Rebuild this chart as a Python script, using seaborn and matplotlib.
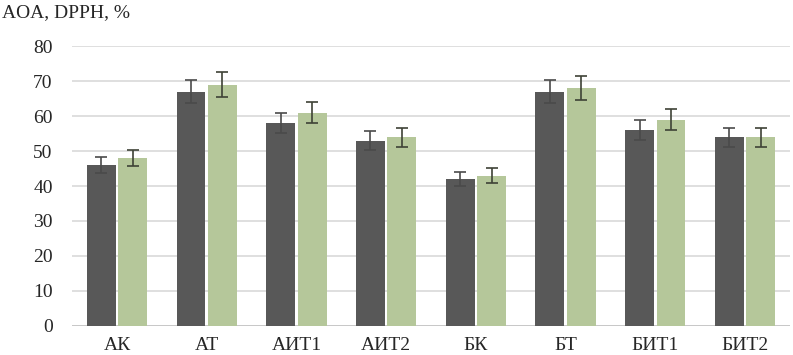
import matplotlib
matplotlib.use("Agg")
import matplotlib.pyplot as plt
import numpy as np
import pandas as pd
import seaborn as sns

categories = ["АК", "АТ", "АИТ1", "АИТ2", "БК", "БТ", "БИТ1", "БИТ2"]
series_names = ["s1", "s2"]
values_s1 = [46, 67, 58, 53, 42, 67, 56, 54]
values_s2 = [48, 69, 61, 54, 43, 68, 59, 54]
err_s1 = [2.3, 3.4, 2.9, 2.7, 2.1, 3.4, 2.8, 2.7]
err_s2 = [2.4, 3.5, 3.1, 2.7, 2.2, 3.4, 3.0, 2.7]
yticks = [0, 10, 20, 30, 40, 50, 60, 70, 80]

sns.set_style("white")
plt.rcParams['font.family'] = ['Liberation Serif', 'DejaVu Serif']

rows = []
for c, a, b in zip(categories, values_s1, values_s2):
    rows.append((c, series_names[0], a))
    rows.append((c, series_names[1], b))
data = pd.DataFrame(rows, columns=["cat", "series", "val"])

fig = plt.figure(figsize=(7.93, 3.55), dpi=100)
ax = fig.add_axes([0.091, 0.082, 0.905, 0.788])

sns.barplot(data=data, x="cat", y="val", hue="series", order=categories,
            hue_order=series_names, palette=["#585858", "#B7CE93"],
            width=0.7, gap=0.08, errorbar=None, legend=False, ax=ax,
            linewidth=0, zorder=3)

# error bars at the bar centres
errs = err_s1 + err_s2
for i, (p, e) in enumerate(zip(ax.patches, errs)):
    x = p.get_x() + p.get_width() / 2
    col = "#4a4a4a" if i < len(err_s1) else "#3e4236"
    ax.errorbar(x, p.get_height(), yerr=e, color=col, capsize=4,
                elinewidth=1.2, capthick=1.2, zorder=4)

ax.set_ylim(0, 80)
ax.set_yticks(yticks)
ax.set_xlim(-0.5, len(categories) - 0.5)
ax.yaxis.grid(True, color="#d9d9d9", linewidth=1.2, zorder=0)
ax.axhline(0, color="#c8c8c8", linewidth=1.4, zorder=2)
ax.set_axisbelow(True)
for s in ax.spines.values():
    s.set_visible(False)
ax.set_xlabel("")
ax.set_ylabel("")
ax.tick_params(axis="both", length=0, labelsize=14, pad=8)
ax.tick_params(axis="y", pad=14)

fig.text(0.003, 0.965, "AOA, DPPH, %", fontsize=14, ha="left", va="center")

fig.savefig("out.png", dpi=100)
